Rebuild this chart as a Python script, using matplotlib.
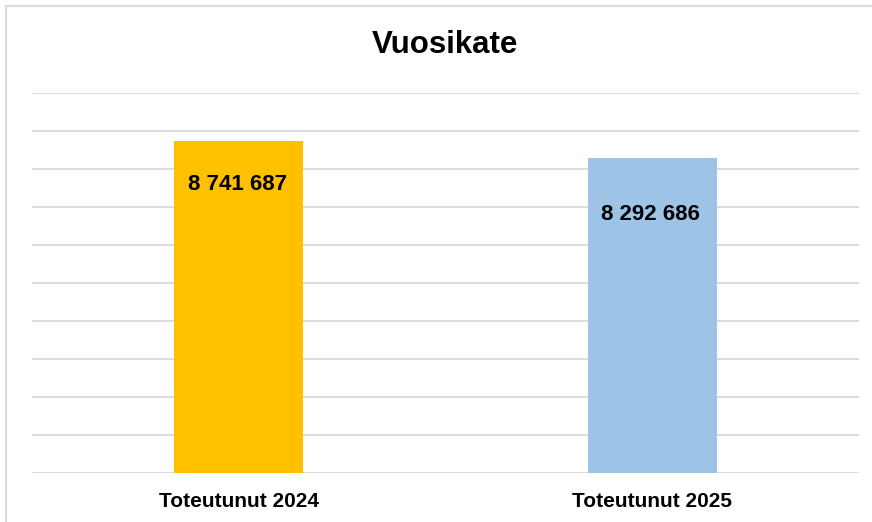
import matplotlib.pyplot as plt
from matplotlib.patches import Rectangle
from matplotlib.ticker import MultipleLocator

categories = ['Toteutunut 2024', 'Toteutunut 2025']
values = [8741687, 8292686]
labels = ['8 741 687', '8 292 686']

bar_colors = ['#FFC000', '#9DC3E6']
label_offsets = [-44, -57]  # pixels below bar top, as in the original

plt.rcParams['font.family'] = ['Liberation Sans', 'DejaVu Sans']

fig = plt.figure(figsize=(8.72, 5.22), dpi=100)
ax = fig.add_axes([32 / 872, 1 - 473 / 522, 827 / 872, 380 / 522])

x = range(len(categories))
ax.bar(x, values, width=0.312, color=bar_colors, zorder=3)

for i, (v, lab) in enumerate(zip(values, labels)):
    ax.annotate(lab, (i, v), xytext=(-1, label_offsets[i] * 0.72), textcoords='offset points',
                ha='center', va='center', fontsize=16, fontweight='bold', color='black', zorder=4)

ax.set_xlim(-0.5, 1.5)
ax.set_ylim(0, 10000000)
ax.yaxis.set_major_locator(MultipleLocator(1000000))
ax.grid(axis='y', color='#D9D9D9', linewidth=1.3, zorder=0)
ax.set_yticklabels([])
ax.tick_params(axis='y', length=0)
ax.tick_params(axis='x', length=0, pad=14)
ax.set_xticks(list(x))
ax.set_xticklabels(categories, fontsize=15, fontweight='bold')
for s in ax.spines.values():
    s.set_visible(False)

fig.text(445 / 872, 1 - 45 / 522, 'Vuosikate', ha='center', va='center',
         fontsize=22.5, fontweight='bold')

# light chart-area border, runs past the right and bottom edge of the image
fig.patches.append(Rectangle((6 / 872, -0.1), 1.2, 1.1 - 6 / 522, transform=fig.transFigure,
                             fill=False, edgecolor='#DCDCDC', linewidth=1.6))

plt.savefig('out.png', dpi=100)
